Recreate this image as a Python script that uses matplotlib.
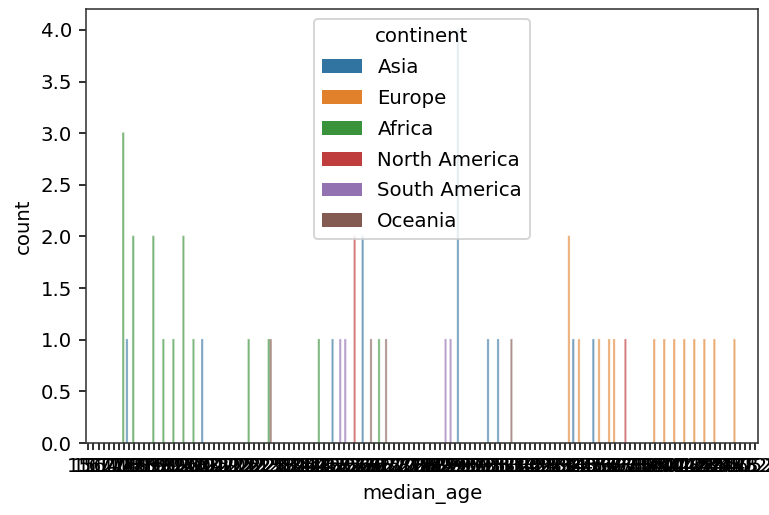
import matplotlib
matplotlib.use("Agg")
import matplotlib.pyplot as plt
from matplotlib.patches import Patch
import numpy as np

# x categories (sorted unique median ages)
median_age_levels = [
    15.1, 15.2, 16.4, 16.7, 17.0, 17.4, 17.6, 17.7, 17.9, 18.1,
    18.3, 18.6, 18.7, 18.8, 19.0, 19.1, 19.2, 19.4, 19.6, 19.7,
    19.8, 20.0, 20.3, 20.4, 20.5, 20.7, 20.9, 21.0, 21.2, 21.5,
    21.6, 21.7, 22.1, 22.2, 22.3, 22.5, 22.6, 22.8, 23.1, 23.2,
    23.5, 23.6, 23.7, 24.0, 24.1, 24.4, 24.5, 24.7, 24.8, 25.0,
    25.2, 25.4, 25.6, 25.7, 25.9, 26.0, 26.1, 26.3, 26.5, 26.7,
    26.8, 27.0, 27.1, 27.3, 27.5, 27.6, 27.9, 28.0, 28.2, 28.4,
    28.6, 28.9, 29.0, 29.3, 29.5, 29.7, 29.9, 30.2, 30.3, 30.5,
    30.6, 30.7, 31.0, 31.1, 31.2, 31.4, 31.6, 31.8, 31.9, 32.1,
    32.4, 32.6, 32.9, 33.1, 33.2, 33.4, 33.7, 34.0, 34.3, 34.6,
    34.9, 35.3, 35.6, 35.9, 36.3, 36.7, 37.1, 37.3, 37.5, 37.8,
    38.0, 38.3, 38.7, 39.0, 39.4, 39.7, 40.1, 40.4, 40.8, 41.2,
    41.5, 41.8, 42.2, 42.5, 42.7, 43.0, 43.3, 43.7, 44.0, 44.5,
    45.5, 46.2, 47.2, 48.2,
]

continents = ["Asia", "Europe", "Africa", "North America", "South America", "Oceania"]

asia_ages = [17.9, 20.4, 25.0, 26.0, 29.5, 30.6, 31.0, 34.0, 35.3]
asia_counts = [1, 1, 1, 2, 4, 1, 1, 1, 1]

europe_ages = [33.7, 34.3, 35.6, 36.3, 36.7, 39.0, 39.7, 40.4, 41.2, 41.8, 42.5, 43.0, 44.5]
europe_counts = [2, 1, 1, 1, 1, 1, 1, 1, 1, 1, 1, 1, 1]

africa_ages = [17.7, 18.1, 18.8, 19.1, 19.4, 19.7, 20.0, 22.1, 22.6, 24.5, 26.5]
africa_counts = [3, 2, 2, 1, 1, 2, 1, 1, 1, 1, 1]

north_america_ages = [25.7, 37.3]
north_america_counts = [2, 1]

south_america_ages = [25.2, 25.4, 28.9, 29.0]
south_america_counts = [1, 1, 1, 1]

oceania_ages = [22.6, 26.1, 26.7, 31.2]
oceania_counts = [1, 1, 1, 1]

series = [
    (asia_ages, asia_counts),
    (europe_ages, europe_counts),
    (africa_ages, africa_counts),
    (north_america_ages, north_america_counts),
    (south_america_ages, south_america_counts),
    (oceania_ages, oceania_counts),
]

colors = ["#3274a1", "#e1812c", "#3a923a", "#c03d3e", "#9372b2", "#845b53"]

dpi = 142.4
fig = plt.figure(figsize=(769 / dpi, 515 / dpi), dpi=dpi)
ax = fig.add_axes([0.1118, 0.1398, 0.9857 - 0.1118, 0.982 - 0.1398])

n_h = len(continents)
w = 0.8 / n_h
for j, ((ages, counts), col) in enumerate(zip(series, colors)):
    idx = np.array([median_age_levels.index(a) for a in ages])
    xpos = idx - 0.4 + w * (j + 0.5)
    ax.bar(xpos, counts, width=w, color=col, edgecolor=col, linewidth=0.8,
           alpha=0.5, snap=False)

N = len(median_age_levels)
ax.set_xticks(range(N))
ax.set_xticklabels([f"{v}" for v in median_age_levels])
ax.set_xlim(-0.5, N - 0.5)
ax.set_ylim(0, 4.2)
ax.set_yticks(np.arange(0, 4.01, 0.5))
ax.set_yticklabels([f"{v:.1f}" for v in np.arange(0, 4.01, 0.5)])
ax.set_xlabel("median_age")
ax.set_ylabel("count")
for s in ax.spines.values():
    s.set_color("#333333")

handles = [Patch(facecolor=c, label=n) for c, n in zip(colors, continents)]
ax.legend(handles=handles, title="continent", loc="upper center", labelspacing=0.6)

fig.savefig("out.png", dpi=dpi)
